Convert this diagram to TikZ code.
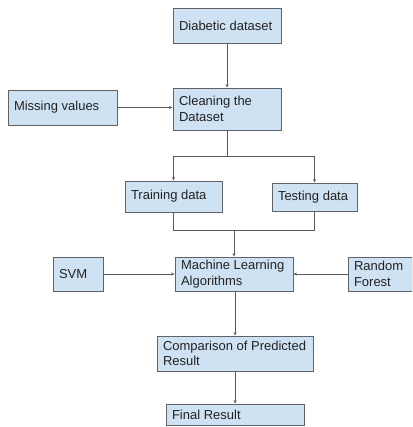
\documentclass[tikz,border=0pt]{standalone}
\usepackage{fontspec}
\setmainfont{Liberation Sans}
\usepackage{tikz}
\usetikzlibrary{positioning,arrows.meta}
\tikzstyle{chart} = [x = 1pt, y = -1pt]
\definecolor{boxFill}{RGB}{207,226,243}
\definecolor{boxLine}{RGB}{95,99,104}
\definecolor{flowLine}{RGB}{90,90,90}
\definecolor{boxText}{RGB}{34,34,34}
\tikzstyle{boxStyle} = [draw=boxLine, fill=boxFill, line width=0.9pt, inner xsep=6pt, inner ysep=2pt, align=flush left, text=boxText, font=\fontsize{13}{15.5}\selectfont]
\tikzstyle{flowArrow} = [draw=flowLine, line width=0.8pt, -{Stealth[length=3.5pt,width=3pt]}]
\tikzstyle{flowPlain} = [draw=flowLine, line width=0.8pt]
\newcommand{\flowBox}[6]{
  \pgfmathsetmacro{\boxTextWidth}{#4 - 12}
  \node [boxStyle, minimum width=#4pt, minimum height=#5pt, text width=\boxTextWidth pt] (#1) at (#2,#3) {#6};
}

\begin{document}
\begin{tikzpicture}[chart]
  \useasboundingbox (0,0) rectangle (412,427);
  \clip (0,0) rectangle (412,427);
  \flowBox{diabetic}{227}{25.5}{108}{35}{Diabetic dataset}
  \flowBox{missing}{62.5}{107.5}{109}{35}{Missing values}
  \flowBox{cleaning}{227}{109}{108}{42}{Cleaning the\\Dataset}
  \flowBox{training}{173.5}{196.5}{97}{31}{Training data}
  \flowBox{testing}{314.5}{197}{85}{28}{Testing data}
  \flowBox{learning}{234}{274}{118}{34}{Machine Learning\\Algorithms}
  \flowBox{svm}{78}{274}{50}{34}{SVM}
  \flowBox{forest}{380}{274}{64}{34}{Random\\Forest}
  \flowBox{comparison}{235}{353.5}{156}{35}{Comparison of Predicted\\Result}
  \flowBox{final}{235}{414.5}{138}{21}{Final Result}
  \coordinate (fork) at (227,156);
  \coordinate (join) at (234,230);
  % top part
  \draw [flowArrow] (diabetic) -- (cleaning);
  \draw [flowArrow] (missing.east) -- (missing.east -| cleaning.west);
  \draw [flowPlain] (cleaning) -- (fork);
  \draw [flowArrow] (fork) -| (training.north);
  \draw [flowArrow] (fork) -| (testing.north);
  % bottom part
  \draw [flowPlain] (training.south) |- (join);
  \draw [flowPlain] (testing.south) |- (join);
  \draw [flowArrow] (join) -- (join |- learning.north);
  \draw [flowArrow] (svm) -- (learning);
  \draw [flowArrow] (forest) -- (learning);
  \draw [flowArrow] (learning.south -| comparison) -- (comparison);
  \draw [flowArrow] (comparison) -- (final);
\end{tikzpicture}
\end{document}
